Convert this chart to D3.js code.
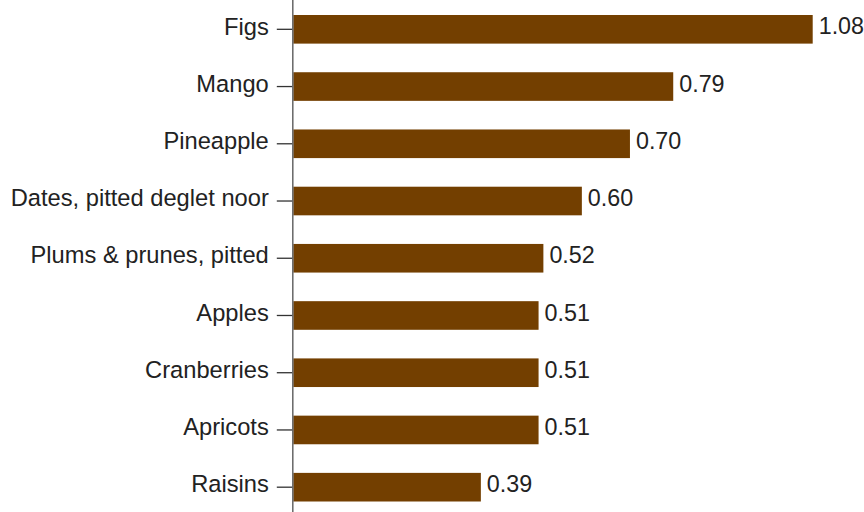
<!DOCTYPE html>
<html><head><meta charset="utf-8">
<script src="https://cdn.jsdelivr.net/npm/d3@7"></script>
<style>body{margin:0;background:#fff}svg{display:block}</style>
</head><body>
<script>
const categories = ["Figs","Mango","Pineapple","Dates, pitted deglet noor","Plums & prunes, pitted","Apples","Cranberries","Apricots","Raisins"];
const values = [1.08,0.79,0.70,0.60,0.52,0.51,0.51,0.51,0.39];

const W=864,H=512;
const svg=d3.select("body").append("svg").attr("width",W).attr("height",H);
const x=d3.scaleLinear().domain([0,1.08]).range([293.3,812.7]);
const y=d3.scaleBand().domain(categories).range([15,501.5]).paddingInner(0.5).paddingOuter(0);

svg.append("g").selectAll("rect").data(values).join("rect")
  .attr("x",x(0)).attr("y",(d,i)=>y(categories[i]))
  .attr("width",d=>x(d)-x(0)).attr("height",y.bandwidth())
  .attr("fill","#733f00");

const ax=svg.append("g").attr("transform",`translate(${x(0)-0.5},0)`)
  .call(d3.axisLeft(y).tickSize(16).tickPadding(8));
ax.select(".domain").remove();
ax.selectAll(".tick line").attr("stroke","#333").attr("stroke-width",1.3);
ax.selectAll(".tick text").attr("font-family","'Liberation Sans',Arial,sans-serif").attr("font-size",23.7).attr("fill","#222").attr("dy","0.22em");
svg.append("line").attr("x1",x(0)-0.5).attr("x2",x(0)-0.5).attr("y1",0).attr("y2",H)
  .attr("stroke","#666").attr("stroke-width",1.5);

svg.append("g").selectAll("text").data(values).join("text")
  .attr("x",d=>x(d)+6).attr("y",(d,i)=>y(categories[i])+y.bandwidth()/2)
  .attr("dy","0.22em")
  .attr("font-family","'Liberation Sans',Arial,sans-serif").attr("font-size",23.3).attr("fill","#222")
  .text(d=>d.toFixed(2));
</script>
</body></html>
